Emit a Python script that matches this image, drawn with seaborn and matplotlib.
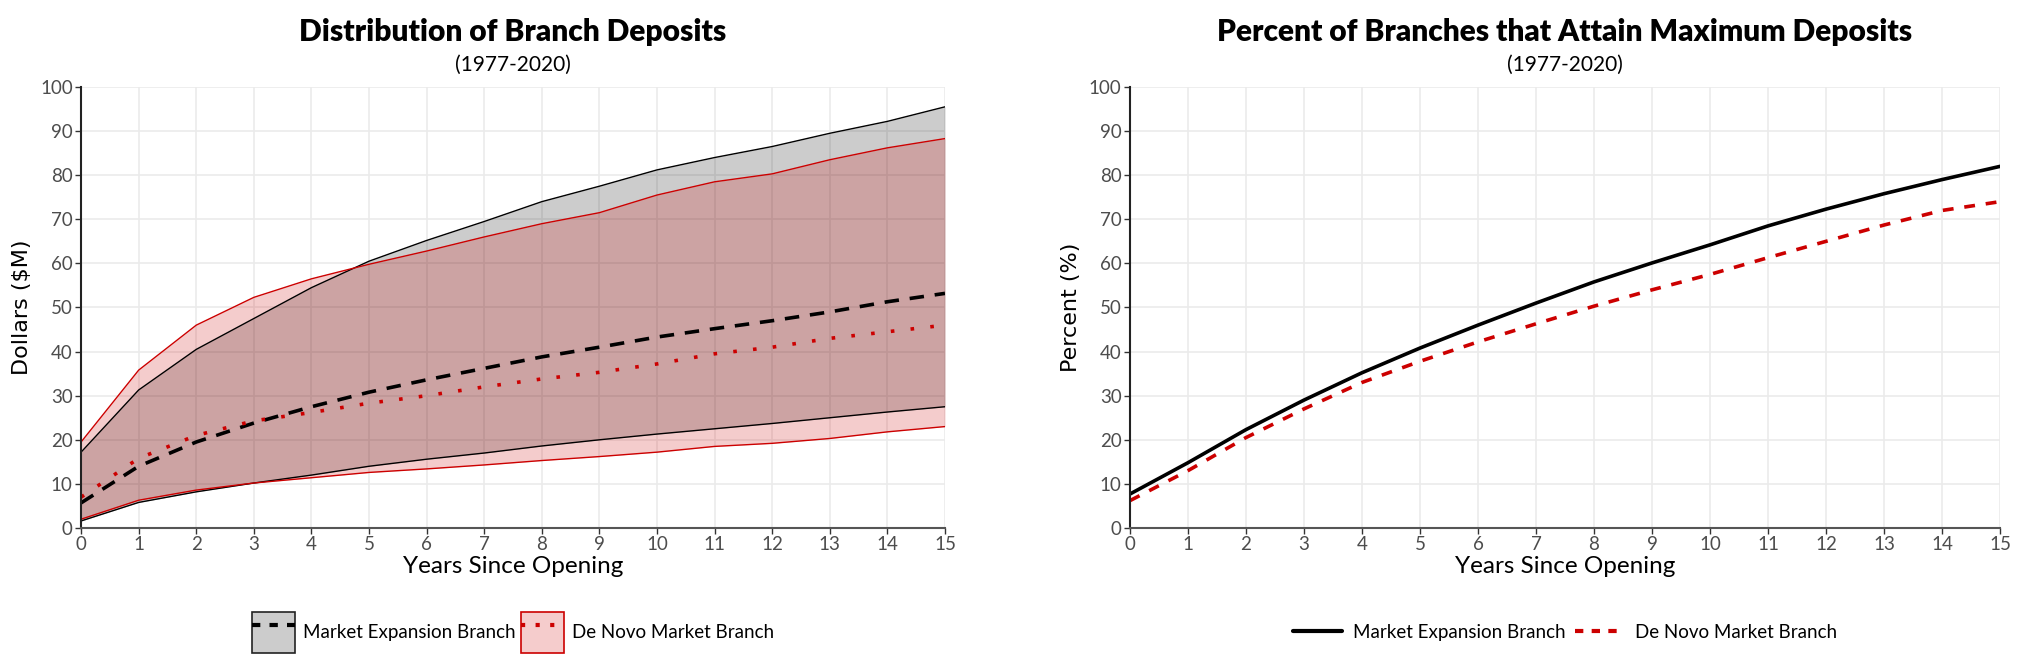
"""Branch deposits: distribution and percent attaining max deposits"""

import matplotlib.pyplot as plt
import seaborn as sns
from matplotlib.patches import Patch
from matplotlib.lines import Line2D
from matplotlib.legend_handler import HandlerTuple

# Data

years = list(range(16))

# left panel: band bounds and medians ($M)
me_upper = [17.2, 31.3, 40.5, 47.5, 54.5, 60.5, 65.2, 69.5, 74.0, 77.5, 81.2, 84.0, 86.5, 89.5, 92.2, 95.5]
me_lower = [1.6, 5.8, 8.2, 10.2, 12.0, 14.0, 15.6, 17.0, 18.6, 20.0, 21.3, 22.5, 23.7, 25.0, 26.3, 27.5]
me_median = [5.7, 14.0, 19.5, 23.8, 27.5, 30.8, 33.6, 36.2, 38.8, 41.0, 43.3, 45.2, 47.0, 49.0, 51.3, 53.2]
dn_upper = [19.5, 35.8, 46.0, 52.3, 56.5, 59.8, 62.8, 66.0, 69.0, 71.5, 75.5, 78.5, 80.3, 83.5, 86.2, 88.3]
dn_lower = [2.0, 6.3, 8.6, 10.2, 11.4, 12.6, 13.4, 14.3, 15.3, 16.2, 17.2, 18.5, 19.2, 20.3, 21.8, 23.0]
dn_median = [7.0, 15.8, 21.0, 24.3, 26.2, 28.3, 30.0, 32.0, 33.8, 35.3, 37.2, 39.5, 41.0, 43.0, 44.5, 46.0]

# right panel: percent of branches at max deposits
me_pct = [7.7, 14.8, 22.3, 29.0, 35.2, 40.8, 46.0, 51.0, 55.8, 60.1, 64.2, 68.5, 72.3, 75.8, 79.0, 82.0]
dn_pct = [6.2, 13.0, 20.5, 27.0, 33.0, 37.8, 42.2, 46.3, 50.3, 54.0, 57.5, 61.3, 65.0, 68.7, 72.0, 74.0]

labels = ["Market Expansion Branch", "De Novo Market Branch"]

BLACK = "#000000"
RED = "#cc0000"

sns.set_theme(style="whitegrid")
plt.rcParams['font.family'] = ['Lato', 'DejaVu Sans']
plt.rcParams['text.color'] = 'black'

fig = plt.figure(figsize=(20.17, 6.66), dpi=100)
ax1 = fig.add_axes([0.0402, 0.2072, 0.4283, 0.6622])
ax2 = fig.add_axes([0.5602, 0.2072, 0.4314, 0.6622])

# Left: bands + medians
ax1.fill_between(years, me_lower, me_upper, color=BLACK, alpha=0.2, lw=0)
ax1.fill_between(years, dn_lower, dn_upper, color=RED, alpha=0.2, lw=0)
sns.lineplot(x=years, y=me_upper, ax=ax1, color=BLACK, lw=1)
sns.lineplot(x=years, y=me_lower, ax=ax1, color=BLACK, lw=1)
sns.lineplot(x=years, y=dn_upper, ax=ax1, color=RED, lw=1)
sns.lineplot(x=years, y=dn_lower, ax=ax1, color=RED, lw=1)
sns.lineplot(x=years, y=me_median, ax=ax1, color=BLACK, lw=2.6,
             linestyle=(0, (4, 3)))
sns.lineplot(x=years, y=dn_median, ax=ax1, color=RED, lw=2.6,
             linestyle=(0, (1, 4.5)))

# Right: percent lines
sns.lineplot(x=years, y=me_pct, ax=ax2, color=BLACK, lw=2.6)
sns.lineplot(x=years, y=dn_pct, ax=ax2, color=RED, lw=2.6, linestyle=(0, (3, 3)))

for ax, ylab in [(ax1, "Dollars ($M)"), (ax2, "Percent (%)")]:
    ax.set_xlim(0, 15)
    ax.set_ylim(0, 100)
    ax.set_xticks(range(16))
    ax.set_yticks(range(0, 101, 10))
    ax.grid(True, color="#ebebeb", lw=1.2)
    ax.set_facecolor("white")
    for s in ["top", "right"]:
        ax.spines[s].set_visible(False)
    ax.spines["left"].set_color("#222222")
    ax.spines["left"].set_linewidth(1.5)
    ax.spines["bottom"].set_color("#555555")
    ax.spines["bottom"].set_linewidth(1.5)
    ax.tick_params(axis="both", labelsize=13.5, labelcolor="#4d4d4d",
                   length=4, width=1, color="#333333", pad=2, direction="out",
                   left=True, bottom=True)
    ax.set_xlabel("Years Since Opening", fontsize=17.5, labelpad=2, color="black")
    ax.set_ylabel(ylab, fontsize=16, family="DejaVu Sans", labelpad=6, color="black")

ax1.text(0.5, 1.125, "Distribution of Branch Deposits", transform=ax1.transAxes,
         ha="center", va="center", fontsize=21.5, fontweight="heavy", color="black")
ax1.text(0.5, 1.05, "(1977-2020)", transform=ax1.transAxes,
         ha="center", va="center", fontsize=15, color="black")
ax2.text(0.5, 1.125, "Percent of Branches that Attain Maximum Deposits", transform=ax2.transAxes,
         ha="center", va="center", fontsize=21.5, fontweight="heavy", color="black")
ax2.text(0.5, 1.05, "(1977-2020)", transform=ax2.transAxes,
         ha="center", va="center", fontsize=15, color="black")

# Legends
h_me = (Patch(facecolor="#cccccc", edgecolor="#222222", lw=1.2),
        Line2D([], [], color=BLACK, lw=3, linestyle=(0, (2, 2.2))))
h_dn = (Patch(facecolor="#f5cccc", edgecolor=RED, lw=1.2),
        Line2D([], [], color=RED, lw=3, linestyle=(0, (1, 2.5))))
ax1.legend([h_me, h_dn], labels, handler_map={tuple: HandlerTuple(ndivide=1)},
           loc="center", bbox_to_anchor=(0.5, -0.236), ncol=2, frameon=False,
           fontsize=13.5, handlelength=2.3, handleheight=3.0, handletextpad=0.4,
           columnspacing=0.3)

l_me = Line2D([], [], color=BLACK, lw=3)
l_dn = Line2D([], [], color=RED, lw=3, linestyle=(0, (2, 2)))
ax2.legend([l_me, l_dn], labels, loc="center", bbox_to_anchor=(0.5, -0.236), ncol=2,
           frameon=False, fontsize=13.5, handlelength=2.6, handletextpad=0.6,
           columnspacing=0.5)

plt.savefig("out.png", dpi=100)
